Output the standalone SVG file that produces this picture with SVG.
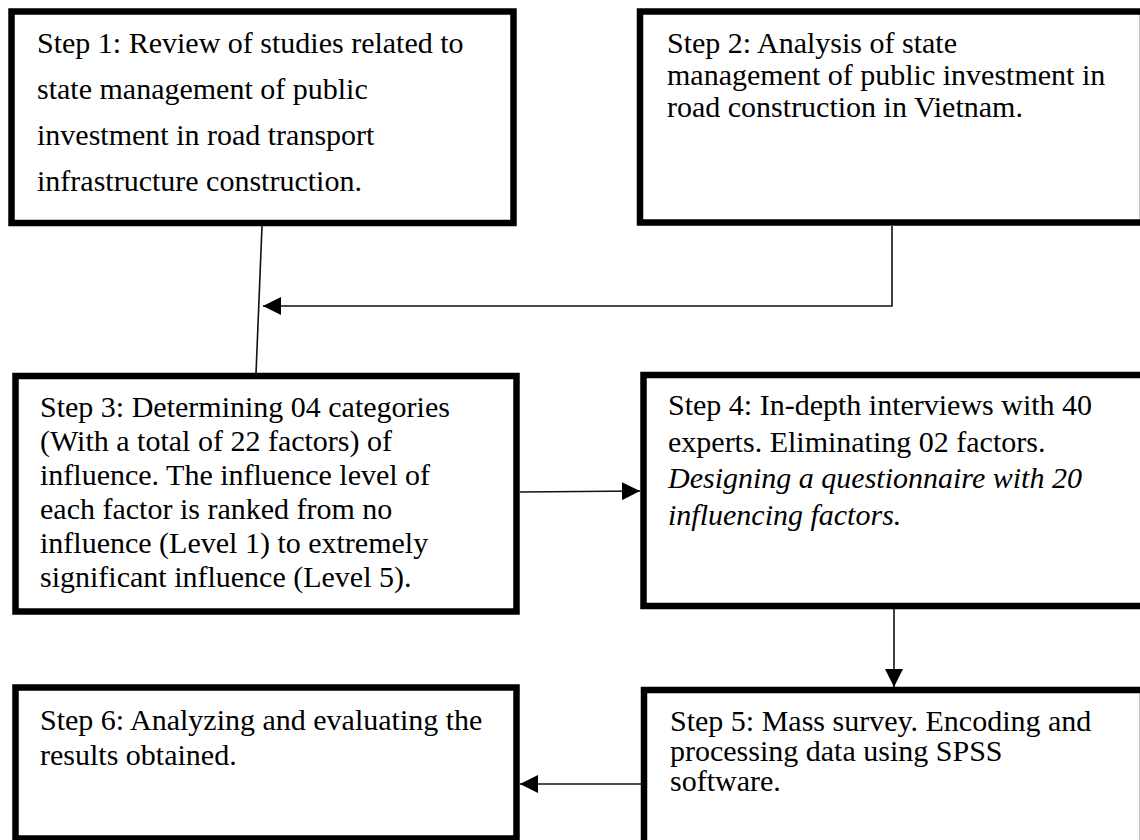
<svg xmlns="http://www.w3.org/2000/svg" width="1140" height="840" viewBox="0 0 1140 840">
<defs>
<style>
.box{fill:#fff;stroke:#000;stroke-width:6.5}
.t{font-family:"Liberation Serif","Times New Roman",serif;font-size:30px;fill:#000}
.i{font-style:italic}
.c{fill:none;stroke:#111;stroke-width:1.6}
</style>
<marker id="ah" viewBox="0 0 10 10" refX="10" refY="5" markerWidth="18" markerHeight="18" markerUnits="userSpaceOnUse" orient="auto">
<path d="M0,0 L10,5 L0,10 Z" fill="#000"/>
</marker>
</defs>
<rect width="1140" height="840" fill="#fff"/>
<g id="connectors">
<line class="c" x1="262" y1="226" x2="256" y2="374"/>
<path class="c" d="M892,226 V306 H263" marker-end="url(#ah)"/>
<line class="c" x1="520" y1="492" x2="640" y2="491" marker-end="url(#ah)"/>
<line class="c" x1="894" y1="609" x2="894" y2="687" marker-end="url(#ah)"/>
<line class="c" x1="641" y1="784" x2="520" y2="784" marker-end="url(#ah)"/>
</g>
<g id="step1">
<rect class="box" x="11.5" y="11.5" width="502" height="211.5"/>
<text class="t"><tspan x="37" y="53">Step 1: Review of studies related to</tspan><tspan x="37" y="99">state management of public</tspan><tspan x="37" y="145">investment in road transport</tspan><tspan x="37" y="191">infrastructure construction.</tspan></text>
</g>
<g id="step2">
<rect class="box" x="640" y="11.5" width="503" height="211"/>
<text class="t"><tspan x="667" y="53">Step 2: Analysis of state</tspan><tspan x="667" y="85">management of public investment in</tspan><tspan x="667" y="117">road construction in Vietnam.</tspan></text>
</g>
<g id="step3">
<rect class="box" x="15.5" y="376" width="501" height="235.5"/>
<text class="t"><tspan x="40" y="417">Step 3: Determining 04 categories</tspan><tspan x="40" y="451">(With a total of 22 factors) of</tspan><tspan x="40" y="485">influence. The influence level of</tspan><tspan x="40" y="519">each factor is ranked from no</tspan><tspan x="40" y="553">influence (Level 1) to extremely</tspan><tspan x="40" y="587">significant influence (Level 5).</tspan></text>
</g>
<g id="step4">
<rect class="box" x="643.5" y="375" width="500" height="231"/>
<text class="t"><tspan x="668" y="415">Step 4: In-depth interviews with 40</tspan><tspan x="668" y="452">experts. Eliminating 02 factors.</tspan><tspan class="i" x="668" y="488">Designing a questionnaire with 20</tspan><tspan class="i" x="668" y="525">influencing factors.</tspan></text>
</g>
<g id="step5">
<rect class="box" x="644" y="690" width="499" height="160"/>
<text class="t"><tspan x="670" y="731">Step 5: Mass survey. Encoding and</tspan><tspan x="670" y="761">processing data using SPSS</tspan><tspan x="670" y="791">software.</tspan></text>
</g>
<g id="step6">
<rect class="box" x="15.5" y="687.5" width="501" height="151"/>
<text class="t"><tspan x="40" y="730">Step 6: Analyzing and evaluating the</tspan><tspan x="40" y="765">results obtained.</tspan></text>
</g>
</svg>
